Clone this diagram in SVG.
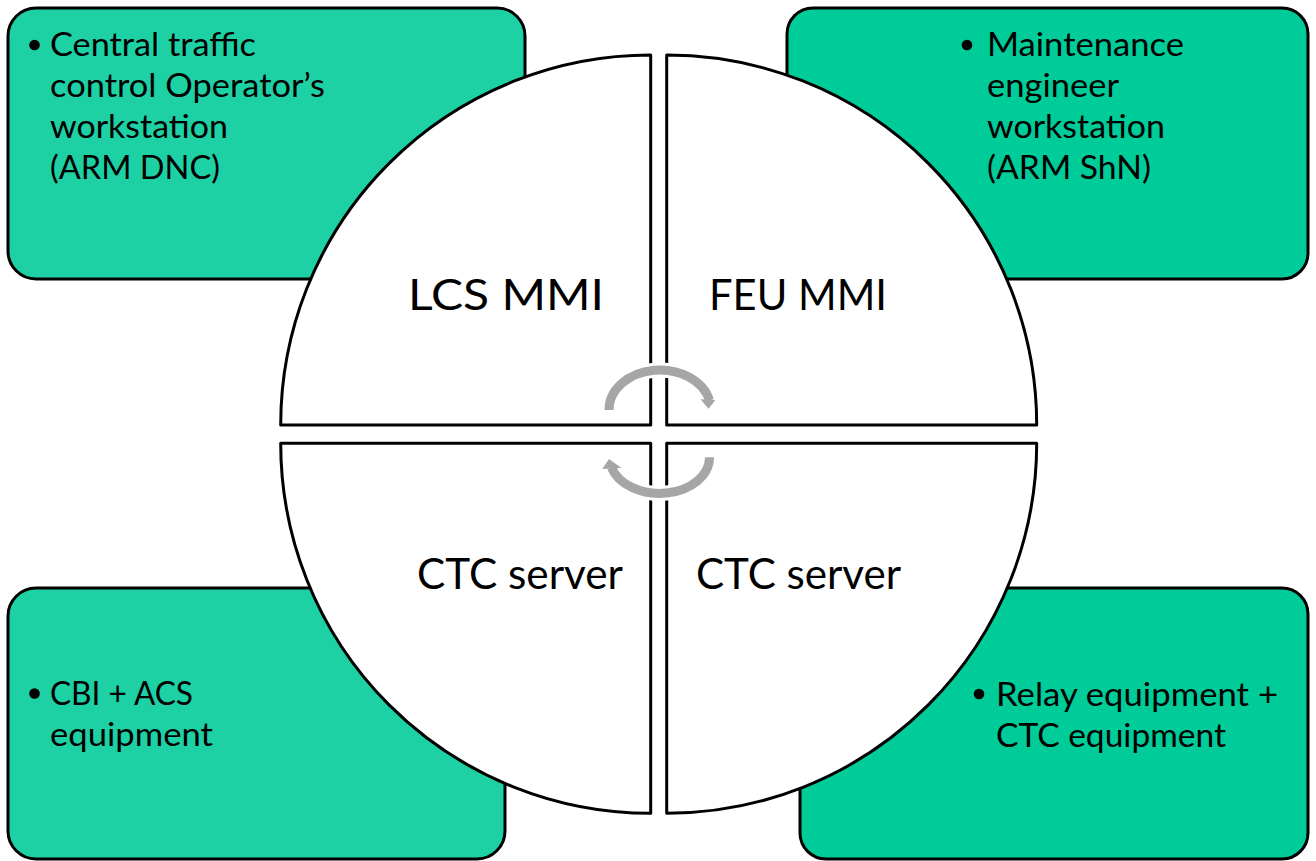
<svg xmlns="http://www.w3.org/2000/svg" width="1316" height="861" viewBox="0 0 1316 861">
  <style>
    .box{stroke:#000;stroke-width:3}
    .light{fill:#1dd1a5}
    .deep{fill:#00cc99}
    .sector{fill:#fff;stroke:#000;stroke-width:3;stroke-linejoin:round}
    .t{font-family:Lato,"Open Sans","Liberation Sans",sans-serif;fill:#000}
    .item{font-size:32px}
    .label{font-size:43px}
    .dot{fill:#000}
    .halo{fill:none;stroke:#fff;stroke-width:15}
    .headhalo{fill:#fff;stroke:#fff;stroke-width:6;stroke-linejoin:round}
    .arc{fill:none;stroke:#a6a6a6;stroke-width:9}
    .head{fill:#a6a6a6}
  </style>
  <rect width="1316" height="861" fill="#fff"/>

  <!-- corner boxes -->
  <g id="node-operator">
    <rect class="box light" x="8" y="8" width="517" height="271" rx="28"/>
    <circle class="dot" cx="34.5" cy="45" r="5.3"/>
    <text class="t item" x="50" y="55.5" textLength="206" lengthAdjust="spacingAndGlyphs">Central traffic</text>
    <text class="t item" x="50" y="96.7" textLength="275" lengthAdjust="spacingAndGlyphs">control Operator’s</text>
    <text class="t item" x="50" y="137.7" textLength="178" lengthAdjust="spacingAndGlyphs">workstation</text>
    <text class="t item" x="50" y="178.7" textLength="170" lengthAdjust="spacingAndGlyphs">(ARM DNC)</text>
  </g>
  <g id="node-maintenance">
    <rect class="box deep" x="787" y="8" width="521" height="271" rx="26"/>
    <circle class="dot" cx="967" cy="45" r="5.3"/>
    <text class="t item" x="987" y="55.5" textLength="197" lengthAdjust="spacingAndGlyphs">Maintenance</text>
    <text class="t item" x="987" y="96.7" textLength="132" lengthAdjust="spacingAndGlyphs">engineer</text>
    <text class="t item" x="987" y="137.7" textLength="178" lengthAdjust="spacingAndGlyphs">workstation</text>
    <text class="t item" x="987" y="178.7" textLength="164" lengthAdjust="spacingAndGlyphs">(ARM ShN)</text>
  </g>
  <g id="node-cbi">
    <rect class="box light" x="8" y="588" width="497" height="271" rx="28"/>
    <circle class="dot" cx="34.5" cy="693.5" r="5.3"/>
    <text class="t item" x="50" y="705" textLength="143" lengthAdjust="spacingAndGlyphs">CBI + ACS</text>
    <text class="t item" x="50" y="746" textLength="163" lengthAdjust="spacingAndGlyphs">equipment</text>
  </g>
  <g id="node-relay">
    <rect class="box deep" x="800" y="588" width="508" height="271" rx="26"/>
    <circle class="dot" cx="979" cy="694" r="5.3"/>
    <text class="t item" x="996" y="705.5" textLength="282" lengthAdjust="spacingAndGlyphs">Relay equipment +</text>
    <text class="t item" x="996" y="746.5" textLength="230" lengthAdjust="spacingAndGlyphs">CTC equipment</text>
  </g>

  <!-- quarter-circle sectors -->
  <g id="node-lcs-mmi">
    <path class="sector" d="M650.7 425 H280.7 A370 370 0 0 1 650.7 55 Z"/>
    <text class="t label" x="408" y="309.5" textLength="196" lengthAdjust="spacingAndGlyphs">LCS MMI</text>
  </g>
  <g id="node-feu-mmi">
    <path class="sector" d="M666.7 425 V55 A370 370 0 0 1 1036.7 425 Z"/>
    <text class="t label" x="709" y="309.5" textLength="178" lengthAdjust="spacingAndGlyphs">FEU MMI</text>
  </g>
  <g id="node-ctc-server-left">
    <path class="sector" d="M650.7 443.3 V813.3 A370 370 0 0 1 280.7 443.3 Z"/>
    <text class="t label" x="417" y="588.5" textLength="206" lengthAdjust="spacingAndGlyphs">CTC server</text>
  </g>
  <g id="node-ctc-server-right">
    <path class="sector" d="M666.7 443.3 H1036.7 A370 370 0 0 1 666.7 813.3 Z"/>
    <text class="t label" x="696" y="588.5" textLength="205" lengthAdjust="spacingAndGlyphs">CTC server</text>
  </g>

  <!-- circular exchange arrows -->
  <g id="connectors">
    <g id="arrow-top">
      <path class="halo" d="M609 410 A51 40 0 0 1 709.5 400.3"/>
      <polygon class="headhalo" points="700.5,399.3 715.5,400 708.5,408.8"/>
      <path class="arc" d="M609 410 A51 40 0 0 1 709.5 400.3"/>
      <polygon class="head" points="700.5,399.3 715.5,400 708.5,408.8"/>
    </g>
    <g id="arrow-bottom">
      <path class="halo" d="M709.5 457.3 A50 36 0 0 1 611.5 467.5"/>
      <polygon class="headhalo" points="602.3,469 621.5,468 609,459"/>
      <path class="arc" d="M709.5 457.3 A50 36 0 0 1 611.5 467.5"/>
      <polygon class="head" points="602.3,469 621.5,468 609,459"/>
    </g>
  </g>
</svg>
